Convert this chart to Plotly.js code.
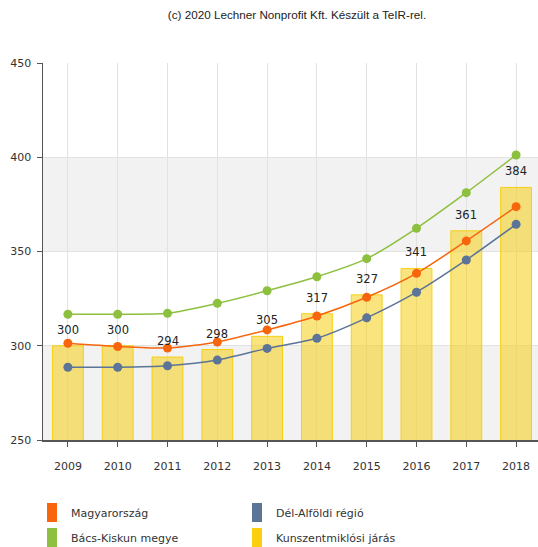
<!DOCTYPE html>
<html>
<head>
<meta charset="utf-8">
<script src="https://cdn.plot.ly/plotly-3.0.1.min.js"></script>
<style>html,body{margin:0;padding:0;background:#fff;}#chart{width:538px;height:547px;}</style>
</head>
<body>
<div id="chart"></div>
<script>
const years = ['2009','2010','2011','2012','2013','2014','2015','2016','2017','2018'];
const magyarorszag = [301.3, 299.6, 298.8, 302.0, 308.4, 315.8, 325.7, 338.4, 355.6, 373.8];
const delAlfoldi = [288.6, 288.6, 289.4, 292.4, 298.6, 304.0, 314.8, 328.4, 345.5, 364.4];
const bacsKiskun = [316.7, 316.7, 317.2, 322.5, 329.2, 336.6, 346.2, 362.3, 381.2, 401.2];
const kunszentmiklosi = [300, 300, 294, 298, 305, 317, 327, 341, 361, 384];
const seriesNames = ['Magyarország', 'Dél-Alföldi régió', 'Bács-Kiskun megye', 'Kunszentmiklósi járás'];
const seriesColors = ['#f7650c', '#5b7497', '#8dc03e', '#f9cf10'];
const yTicks = [250, 300, 350, 400, 450];
const creditText = '(c) 2020 Lechner Nonprofit Kft. Készült a TeIR-rel.';

const W = 538, H = 547;
const mL = 43, mR = 0, mT = 63, mB = 107;
const plotW = W - mL - mR, plotH = H - mT - mB;
const px = v => (v - mL) / plotW;
const py = v => (H - mB - v) / plotH;

const font = 'DejaVu Sans, Verdana, sans-serif';

const bars = {
  type: 'bar', x: years, y: kunszentmiklosi, name: seriesNames[3],
  width: 0.62,
  marker: {color: 'rgba(245,205,20,0.55)', line: {color: 'rgba(245,205,0,0.9)', width: 1}},
  hoverinfo: 'x+y', showlegend: false
};
function lineTrace(vals, name, color) {
  return {
    type: 'scatter', mode: 'lines+markers', x: years, y: vals, name: name,
    line: {color: color, width: 1.5, shape: 'spline', smoothing: 0.7},
    marker: {color: color, size: 9},
    showlegend: false, cliponaxis: false
  };
}
const traces = [
  bars,
  lineTrace(bacsKiskun, seriesNames[2], seriesColors[2]),
  lineTrace(magyarorszag, seriesNames[0], seriesColors[0]),
  lineTrace(delAlfoldi, seriesNames[1], seriesColors[1])
];

const shapes = [
  {type: 'rect', xref: 'paper', yref: 'y', x0: 0, x1: 1, y0: 250, y1: 300, fillcolor: '#f2f2f2', line: {width: 0}, layer: 'below'},
  {type: 'rect', xref: 'paper', yref: 'y', x0: 0, x1: 1, y0: 350, y1: 400, fillcolor: '#f2f2f2', line: {width: 0}, layer: 'below'}
];
const annotations = [];
kunszentmiklosi.forEach((v, i) => {
  annotations.push({x: i, y: v, xref: 'x', yref: 'y', text: String(v), showarrow: false,
    yanchor: 'bottom', yshift: 7, font: {family: font, size: 11.5, color: '#222'}});
});
// legend (2 columns)
const legendPos = [[47, 503], [252, 503], [47, 528], [252, 528]];
seriesNames.forEach((n, i) => {
  const [lx, ly] = legendPos[i];
  shapes.push({type: 'rect', xref: 'paper', yref: 'paper', x0: px(lx), x1: px(lx + 10), y0: py(ly + 19), y1: py(ly),
    fillcolor: seriesColors[i], line: {width: 0}});
  annotations.push({xref: 'paper', yref: 'paper', x: px(lx + 22), y: py(ly + 10), xanchor: 'left', yanchor: 'middle',
    text: n, showarrow: false, font: {family: font, size: 11, color: '#333'}});
});

const layout = {
  width: W, height: H,
  margin: {l: mL, r: mR, t: mT, b: mB, pad: 0},
  paper_bgcolor: '#fff', plot_bgcolor: 'rgba(0,0,0,0)',
  showlegend: false,
  title: {text: creditText, xref: 'container', yref: 'container', x: 297 / W, xanchor: 'center',
    y: 1 - 15 / H, yanchor: 'middle', font: {family: 'Liberation Sans, Arial, sans-serif', size: 11.7, color: '#222'}},
  xaxis: {
    type: 'category', range: [-0.5, 9.44], showgrid: true, gridcolor: '#e2e2e2', gridwidth: 1,
    ticks: 'outside', ticklen: 5, tickcolor: '#555', showline: true, linecolor: '#555', linewidth: 1.5,
    tickfont: {family: font, size: 11, color: '#333'}, ticklabelstandoff: 10, zeroline: false, fixedrange: true
  },
  yaxis: {
    range: [250, 450], tickvals: yTicks, ticktext: yTicks.map(String), showgrid: true, gridcolor: '#e2e2e2',
    ticks: 'outside', ticklen: 5, tickcolor: '#555', showline: true, linecolor: '#555', linewidth: 1.5,
    tickfont: {family: font, size: 11, color: '#333'}, zeroline: false, fixedrange: true, ticklabelstandoff: 3
  },
  shapes: shapes,
  annotations: annotations,
  bargap: 0.38
};
Plotly.newPlot('chart', traces, layout, {staticPlot: true, displayModeBar: false});
</script>
</body>
</html>
